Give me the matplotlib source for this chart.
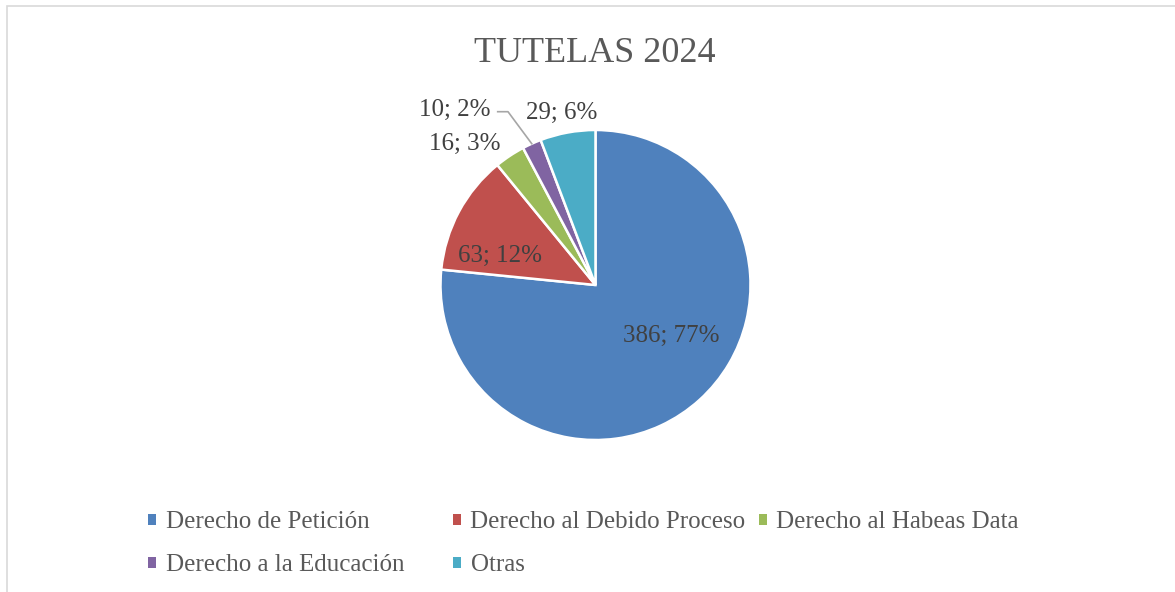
import matplotlib.pyplot as plt
from matplotlib.patches import Rectangle, Patch
import numpy as np

# data
categories = ["Derecho de Petición", "Derecho al Debido Proceso", "Derecho al Habeas Data",
              "Derecho a la Educación", "Otras"]
values = [386, 63, 16, 10, 29]
percent_labels = ["77%", "12%", "3%", "2%", "6%"]
colors = ["#4F81BD", "#C0504D", "#9BBB59", "#8064A2", "#4BACC6"]

W, H = 1175, 592
fig = plt.figure(figsize=(W / 100, H / 100), dpi=100)
plt.rcParams['font.family'] = ['Liberation Serif', 'DejaVu Serif']

# outer border (only top/left visible in the crop)
fig.add_artist(Rectangle((6.5 / W, -0.2), 1.5, 1.2 - 5.5 / H, transform=fig.transFigure,
                         fill=False, edgecolor="#D9D9D9", linewidth=1.2))

# pie axes: centre (595.5, 285) px, radius 155 px
cx, cy, R = 595.5, 285, 155
ax = fig.add_axes([(cx - R) / W, (H - cy - R) / H, 2 * R / W, 2 * R / H])
wedges, _ = ax.pie(values, colors=colors, startangle=90, counterclock=False, radius=1,
                   wedgeprops=dict(edgecolor="white", linewidth=1.8))
ax.set_xlim(-1, 1)
ax.set_ylim(-1, 1)
ax.axis("off")

txt = "#404040"
# label positions in pixels (Excel best-fit placement)
label_px = [(671.5, 333), (499.5, 253.5), (465, 141), (455, 107), (561.5, 110.5)]
for v, p, (px, py) in zip(values, percent_labels, label_px):
    ax.text((px - cx) / R, (cy - py) / R, f"{v}; {p}", ha="center", va="center_baseline",
            fontsize=18, color=txt, clip_on=False)

# leader line for the small purple slice
w = wedges[3]
mid = np.deg2rad((w.theta1 + w.theta2) / 2)
ex, ey = np.cos(mid), np.sin(mid)
ax.plot([(497.7 - cx) / R, (508 - cx) / R, ex], [(cy - 111.7) / R, (cy - 111.7) / R, ey],
        color="#A6A6A6", linewidth=1.2, clip_on=False)

fig.text(595 / W, (H - 62) / H, "TUTELAS 2024", ha="center", va="baseline",
         fontsize=26, color="#595959")

# legend: three columns, row-major order like Excel
handles = [Patch(facecolor=c, edgecolor="none") for c in colors]
cols = [[0, 3], [1, 4], [2]]
col_x = [148, 453, 759]
for xs, idx in zip(col_x, cols):
    fig.legend([handles[i] for i in idx], [categories[i] for i in idx],
               loc="upper left", bbox_to_anchor=(xs / W, (H - 511) / H),
               frameon=False, fontsize=18, handlelength=0.3, handleheight=0.3,
               handletextpad=0.4, labelspacing=0.84, borderpad=0, borderaxespad=0,
               labelcolor="#595959")

fig.savefig("out.png", dpi=100)
